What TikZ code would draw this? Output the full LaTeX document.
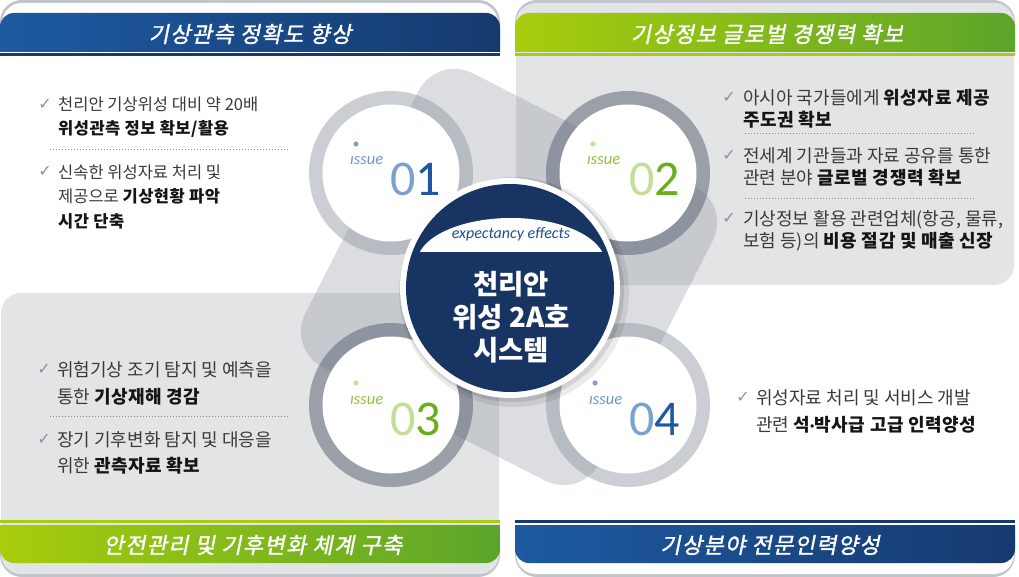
\documentclass[tikz,border=0pt]{standalone}
\usepackage{fontspec}
\setmainfont{Noto Sans CJK KR}
\newfontfamily\krsl{Noto Sans CJK KR}[FakeSlant=0.2, LetterSpace=6, FakeBold=1.5]
\newfontfamily\lat{Carlito}
\newfontfamily\symf{DejaVu Sans}
\definecolor{panelgrey}{HTML}{E3E4E6}
\definecolor{outlinegrey}{HTML}{C0C5CB}
\definecolor{blueL}{HTML}{1D5AA2}
\definecolor{blueR}{HTML}{163A6E}
\definecolor{greenL}{HTML}{A8CD0C}
\definecolor{greenR}{HTML}{5CA52A}
\definecolor{navyline}{HTML}{17396E}
\definecolor{limeline}{HTML}{A9CB12}
\definecolor{shapegrey}{HTML}{7E8592}
\definecolor{ringA}{HTML}{8D949F}
\definecolor{ringB}{HTML}{6A7280}
\definecolor{navy}{HTML}{173462}
\definecolor{txt}{HTML}{3A3A3A}
\definecolor{txtb}{HTML}{151515}
\definecolor{chkgrey}{HTML}{8E9297}
\definecolor{dotgrey}{HTML}{8A8A8A}
\definecolor{issueblue}{HTML}{6F95C8}
\definecolor{numblueL}{HTML}{7CA1D0}
\definecolor{numblueD}{HTML}{1E58A3}
\definecolor{issuegreen}{HTML}{8CC43A}
\definecolor{numgreenL}{HTML}{C1DF95}
\definecolor{numgreenD}{HTML}{68AE1E}
\definecolor{dotblue}{HTML}{7FA2D2}
\definecolor{dotgreen}{HTML}{C3E19A}
\definecolor{effblue}{HTML}{1F4F92}
\newcommand{\kbold}[1]{\textcolor{txtb}{\bfseries\addfontfeature{LetterSpace=3}#1}}
\begin{document}
\begin{tikzpicture}[x=1pt,y=-1pt,
  bodytext/.style={anchor=west, inner sep=0pt, align=left, text=txt},
  tlfont/.style={font=\fontsize{16.5}{24.5}\selectfont},
  trfont/.style={font=\fontsize{18}{22}\selectfont},
  blfont/.style={font=\fontsize{18}{26.5}\selectfont},
  chk/.style={inner sep=0pt, text=chkgrey, font=\symf\fontsize{16}{16}\selectfont},
  sepline/.style={draw=dotgrey, line width=0.9pt, dash pattern=on 0.9pt off 2.1pt},
  headtext/.style={inner sep=0pt, text=white, font=\krsl\fontsize{22}{22}\selectfont},
  issuetext/.style={anchor=base west, inner sep=0pt, font=\lat\itshape\fontsize{16.5}{16.5}\selectfont},
  numtext/.style={anchor=base west, inner sep=0pt, font=\lat\fontsize{50}{50}\selectfont},
  ringnode/.style={circle, inner sep=0pt, minimum size=164pt},
  discnode/.style={circle, inner sep=0pt, minimum size=137pt, fill=white},
]
\useasboundingbox (0,0) rectangle (1019,577);
\fill[white] (0,0) rectangle (1019,577);

% ---- panels ----
\fill[outlinegrey, rounded corners=22pt] (0,0) rectangle (500,60);
\fill[white, rounded corners=20pt] (2,3) rectangle (498,70);
\fill[outlinegrey, rounded corners=22pt] (515,0) rectangle (1015,60);
\fill[panelgrey, rounded corners=20pt] (516,3) rectangle (1014,285);
\fill[outlinegrey, rounded corners=22pt] (0,515) rectangle (500,577);
\fill[panelgrey, rounded corners=20pt] (1,293) rectangle (499,574);
\fill[outlinegrey, rounded corners=22pt] (515,515) rectangle (1015,577);
\fill[white, rounded corners=20pt] (516,480) rectangle (1014,574);

% ---- central background shape ----
\node[rotate=-27, minimum size=330pt, inner sep=0pt, rounded corners=40pt,
      fill=shapegrey, fill opacity=0.28] (bgshape) at (509,277) {};

% ---- header bars ----
\begin{scope}
  \clip (0,0) rectangle (1019,52);
  \shade[left color=blueL, right color=blueR, rounded corners=14pt] (0,13) rectangle (500,80);
  \shade[left color=greenL, right color=greenR, rounded corners=14pt] (515,13) rectangle (1015,80);
\end{scope}
\fill[navyline] (0,53.2) rectangle (500,55.6);
\fill[limeline] (515,53.2) rectangle (1015,55.6);
\fill[limeline] (0,520) rectangle (500,522.6);
\fill[navyline] (515,520) rectangle (1015,522.6);
\begin{scope}
  \clip (0,525) rectangle (1019,577);
  \shade[left color=greenL, right color=greenR, rounded corners=14pt] (0,490) rectangle (500,563);
  \shade[left color=blueL, right color=blueR, rounded corners=14pt] (515,490) rectangle (1015,563);
\end{scope}

\node[headtext] (h1) at (250,34) {기상관측 정확도 향상};
\node[headtext] (h2) at (767,34) {기상정보 글로벌 경쟁력 확보};
\node[headtext] (h3) at (253,545) {안전관리 및 기후변화 체계 구축};
\node[headtext] (h4) at (770,545) {기상분야 전문인력양성};

% ---- issue circles ----
\node[ringnode, fill=ringA, fill opacity=0.45] (ring1) at (391,173) {};
\node[ringnode, fill=ringB, fill opacity=0.6] (ring2) at (628,173) {};
\node[ringnode, fill=ringB, fill opacity=0.6] (ring3) at (391,405) {};
\node[ringnode, fill=ringA, fill opacity=0.45] (ring4) at (628,405) {};
\node[discnode] (disc1) at (391,173) {};
\node[discnode] (disc2) at (628,173) {};
\node[discnode] (disc3) at (391,405) {};
\node[discnode] (disc4) at (628,405) {};

\fill[dotblue] (356,144) circle (2.6pt);
\node[issuetext, text=issueblue] (iss1) at (350,165) {ıssue};
\node[numtext] (num1) at (390,196) {\textcolor{numblueL}{0}\textcolor{numblueD}{1}};

\fill[dotgreen] (593,144) circle (2.6pt);
\node[issuetext, text=issuegreen] (iss2) at (587,165) {ıssue};
\node[numtext] (num2) at (629,196) {\textcolor{numgreenL}{0}\textcolor{numgreenD}{2}};

\fill[dotgreen] (356,383) circle (2.6pt);
\node[issuetext, text=issuegreen] (iss3) at (350,404) {ıssue};
\node[numtext] (num3) at (390,435) {\textcolor{numgreenL}{0}\textcolor{numgreenD}{3}};

\fill[dotblue] (595,383) circle (2.6pt);
\node[issuetext, text=issueblue] (iss4) at (589,404) {ıssue};
\node[numtext] (num4) at (629,435) {\textcolor{numblueL}{0}\textcolor{numblueD}{4}};

% ---- central circle ----
\fill[black, opacity=0.08] (514,292) circle (115pt);
\fill[black, opacity=0.10] (512,290) circle (112pt);
\node[circle, fill=white, minimum size=220pt, inner sep=0pt] (cwhite) at (510,288) {};
\node[circle, fill=navy, minimum size=208pt, inner sep=0pt] (cnavy) at (510,288) {};
\begin{scope}
  \clip (511,263) ellipse (94pt and 45pt);
  \fill[white] (400,200) rectangle (620,252);
\end{scope}
\node[anchor=base, inner sep=0pt, text=effblue, font=\lat\itshape\fontsize{16}{16}\selectfont] (eff) at (511,239) {expectancy effects};
\node[align=center, inner sep=0pt, text=white, font=\bfseries\fontsize{27.5}{33}\selectfont] (ctitle) at (511,317) {천리안\\위성 2A호\\시스템};

% ---- top-left bullets ----
\node[chk] (c1) at (45,104) {✓};
\node[bodytext, tlfont] (t1) at (58,117) {천리안 기상위성 대비 약 20배\\\kbold{위성관측 정보 확보/활용}};
\coordinate (s1a) at (50,149); \coordinate (s1b) at (288,149);
\draw[sepline] (s1a) -- (s1b);
\node[chk] (c2) at (45,171) {✓};
\node[bodytext, tlfont] (t2) at (58,196.5) {신속한 위성자료 처리 및\\제공으로 \kbold{기상현황 파악}\\\kbold{시간 단축}};

% ---- top-right bullets ----
\node[chk] (c3) at (729,97) {✓};
\node[bodytext, trfont] (t3) at (743,108.5) {아시아 국가들에게 \kbold{위성자료 제공}\\\kbold{주도권 확보}};
\coordinate (s2a) at (745,133); \coordinate (s2b) at (975,133);
\draw[sepline] (s2a) -- (s2b);
\node[chk] (c4) at (729,155) {✓};
\node[bodytext, trfont] (t4) at (743,167) {전세계 기관들과 자료 공유를 통한\\관련 분야 \kbold{글로벌 경쟁력 확보}};
\coordinate (s3a) at (745,198); \coordinate (s3b) at (975,198);
\draw[sepline] (s3a) -- (s3b);
\node[chk] (c5) at (729,218) {✓};
\node[bodytext, trfont] (t5) at (743,230.5) {기상정보 활용 관련업체(항공, 물류,\\보험 등)의 \kbold{비용 절감 및 매출 신장}};

% ---- bottom-left bullets ----
\node[chk] (c6) at (44,369) {✓};
\node[bodytext, blfont] (t6) at (57,383.5) {위험기상 조기 탐지 및 예측을\\통한 \kbold{기상재해 경감}};
\coordinate (s4a) at (50,416); \coordinate (s4b) at (288,416);
\draw[sepline] (s4a) -- (s4b);
\node[chk] (c7) at (44,439) {✓};
\node[bodytext, blfont] (t7) at (57,453) {장기 기후변화 탐지 및 대응을\\위한 \kbold{관측자료 확보}};

% ---- bottom-right bullet ----
\node[chk] (c8) at (743,397) {✓};
\node[bodytext, blfont] (t8) at (756,411.5) {위성자료 처리 및 서비스 개발\\관련 \kbold{석{\lat\bfseries ·}박사급 고급 인력양성}};
\end{tikzpicture}
\end{document}
